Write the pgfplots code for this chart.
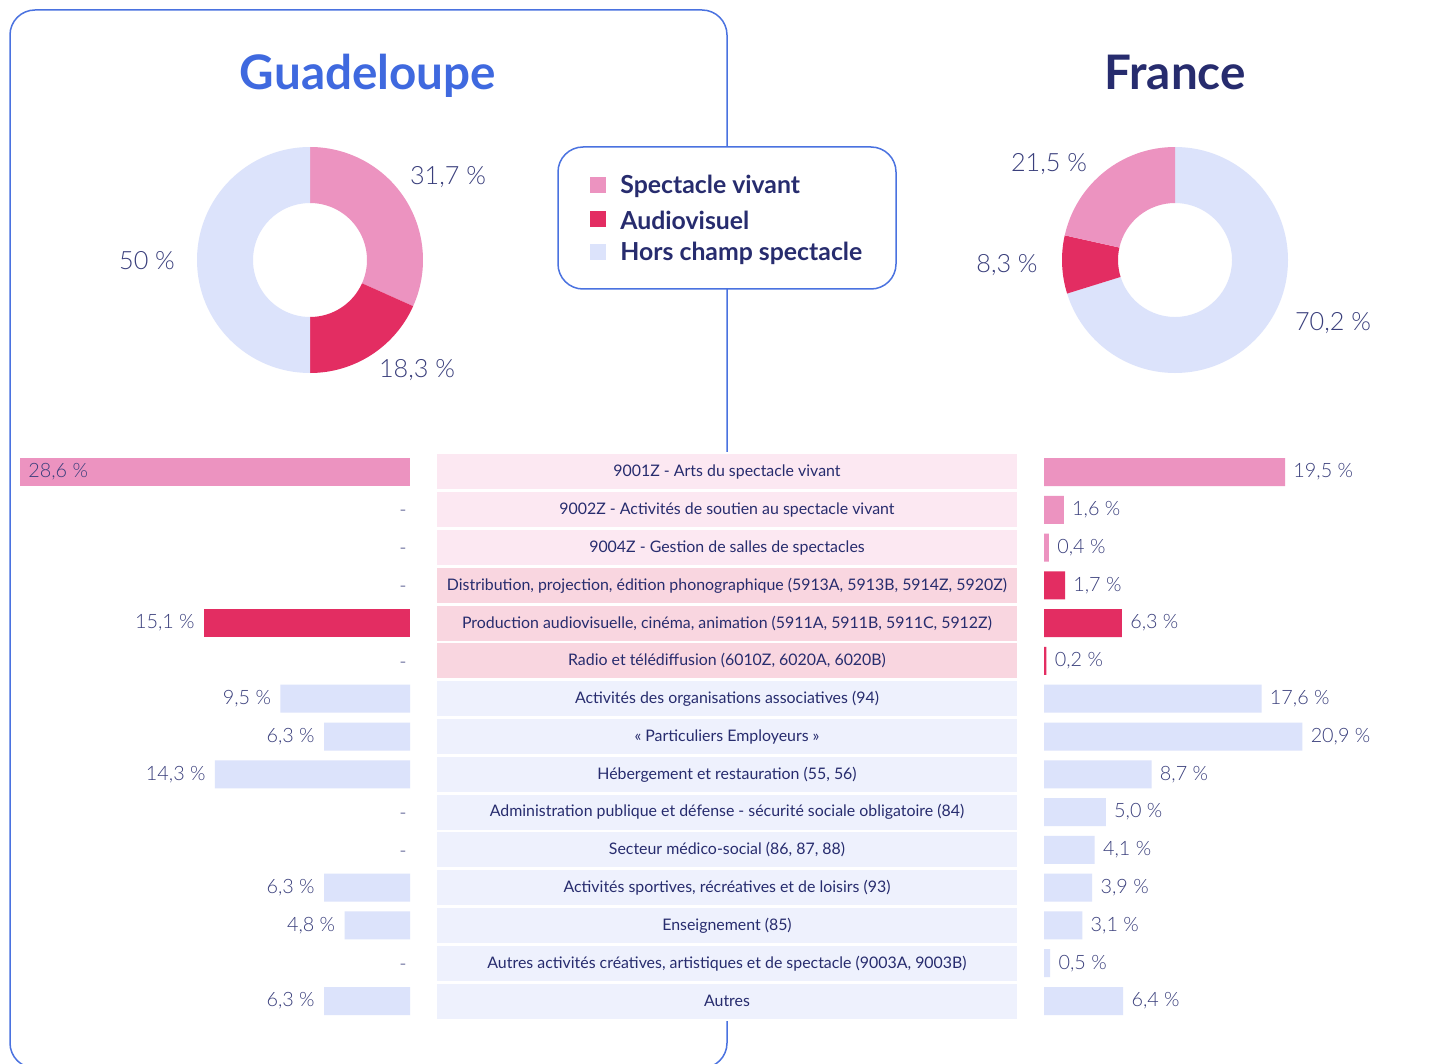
\documentclass[border=0pt]{standalone}
\usepackage{pgfplots}
\pgfplotsset{compat=1.18}
\usepackage{fontspec}
\setmainfont{Lato}
\newfontfamily\lightfont{Lato Light}
\definecolor{sv}{HTML}{EC93C0}
\definecolor{av}{HTML}{E32D62}
\definecolor{hc}{HTML}{DCE3FB}
\definecolor{rsv}{HTML}{FCE8F2}
\definecolor{rav}{HTML}{F9D6E0}
\definecolor{rhc}{HTML}{EEF1FD}
\definecolor{frame}{HTML}{4A72E0}
\definecolor{gtitle}{HTML}{3F69DF}
\definecolor{navy}{HTML}{272C6E}
\definecolor{lab}{HTML}{3A3F7C}
\newcommand\sector[3]{%
  \fill[#1] (axis cs:0,0) ++(#2:56.5pt) arc[start angle=#2, end angle=#3, radius=56.5pt]
   -- ([shift={(#3:28.5pt)}]axis cs:0,0) arc[start angle=#3, end angle=#2, radius=28.5pt] -- cycle;}
\pgfmathsetmacro\ga{90-3.6*31.7}
\pgfmathsetmacro\gb{\ga-3.6*18.3}
\pgfmathsetmacro\gc{\gb-3.6*50}
\pgfmathsetmacro\fa{90-3.6*70.2}
\pgfmathsetmacro\fb{\fa-3.6*8.3}
\pgfmathsetmacro\fc{\fb-3.6*21.5}
\newcommand\pfont{\lightfont\fontsize{9.9}{11}\selectfont}
\newcommand\rfont{\fontsize{7.95}{9.5}\selectfont}
\newcommand\dfont{\lightfont\fontsize{12.6}{14}\selectfont}
\begin{document}
\begin{tikzpicture}
\begin{scope}[x=0.5pt,y=-0.5pt]
\clip (0,0) rectangle (1451,1064);
\fill[white] (0,0) rectangle (1451,1064);
% panel
\draw[frame, line width=0.75pt, rounded corners=12.5pt] (10,10) rectangle (727,1068);
% titles
\node[anchor=base, text=gtitle, font=\fontsize{23.8}{26}\bfseries\selectfont, inner sep=0pt] at (368,90) {Guadeloupe};
\node[anchor=base, text=navy, font=\fontsize{23.8}{26}\bfseries\selectfont, inner sep=0pt] at (1175,90) {France};
% legend
\draw[frame, line width=0.75pt, rounded corners=12.5pt, fill=white] (558,147) rectangle (896,289);
\foreach \c/\t/\yy in {sv/Spectacle vivant/185, av/Audiovisuel/219, hc/Hors champ spectacle/252}{
  \fill[\c] (590,\yy-8) rectangle (606,\yy+8);
  \node[anchor=west, text=navy, font=\fontsize{12.4}{14}\bfseries\selectfont, inner sep=0pt] at (620,\yy+1) {\t};
}
% table background
\fill[white] (430,452) rectangle (1024,1021);
\foreach \i/\c/\t in {1/rsv/9001Z - Arts du spectacle vivant,
 2/rsv/9002Z - Activités de soutien au spectacle vivant,
 3/rsv/9004Z - Gestion de salles de spectacles,
 4/rav/{Distribution, projection, édition phonographique (5913A, 5913B, 5914Z, 5920Z)},
 5/rav/{Production audiovisuelle, cinéma, animation (5911A, 5911B, 5911C, 5912Z)},
 6/rav/{Radio et télédiffusion (6010Z, 6020A, 6020B)},
 7/rhc/Activités des organisations associatives (94),
 8/rhc/« Particuliers Employeurs »,
 9/rhc/{Hébergement et restauration (55, 56)},
 10/rhc/Administration publique et défense - sécurité sociale obligatoire (84),
 11/rhc/{Secteur médico-social (86, 87, 88)},
 12/rhc/{Activités sportives, récréatives et de loisirs (93)},
 13/rhc/Enseignement (85),
 14/rhc/{Autres activités créatives, artistiques et de spectacle (9003A, 9003B)},
 15/rhc/Autres}{
  \pgfmathsetmacro\yc{453.1+37.79*(\i-0.5)}
  \fill[\c] (437,\yc-17.5) rectangle (1017,\yc+17.5);
  \node[text=navy, font=\rfont] at (727,\yc) {\t};
}
\node[text=lab, font=\dfont] at (448,177) {31,7 \%};
\node[text=lab, font=\dfont] at (417,370) {18,3 \%};
\node[text=lab, font=\dfont] at (147,261) {50 \%};
\node[text=lab, font=\dfont] at (1049,164) {21,5 \%};
\node[text=lab, font=\dfont] at (1007,265) {8,3 \%};
\node[text=lab, font=\dfont] at (1333,323) {70,2 \%};
\end{scope}
% Guadeloupe donut
\begin{axis}[at={(155pt,-130pt)}, anchor=center, scale only axis, width=113pt, height=113pt,
  xmin=-1, xmax=1, ymin=-1, ymax=1, hide axis, clip=false]
\sector{sv}{90}{\ga}
\sector{av}{\ga}{\gb}
\sector{hc}{\gb}{\gc}
\end{axis}
% France donut
\begin{axis}[at={(587.5pt,-130pt)}, anchor=center, scale only axis, width=113pt, height=113pt,
  xmin=-1, xmax=1, ymin=-1, ymax=1, hide axis, clip=false]
\sector{hc}{90}{\fa}
\sector{av}{\fa}{\fb}
\sector{sv}{\fb}{\fc}
\end{axis}
% Guadeloupe bars
\begin{axis}[at={(5pt,-226.55pt)}, anchor=north west, scale only axis, width=200pt, height=283.4pt,
  xmin=0, xmax=29.33, x dir=reverse, ymin=0.5, ymax=15.5, y dir=reverse, hide axis,
  xbar, bar width=14pt, bar shift=0pt, clip=false]
\addplot[fill=sv, draw=none] coordinates {(28.6,1)};
\addplot[fill=av, draw=none] coordinates {(15.1,5)};
\addplot[fill=hc, draw=none] coordinates {(9.5,7) (6.3,8) (14.3,9) (6.3,12) (4.8,13) (6.3,15)};
\node[anchor=west, text=lab, font=\pfont, inner sep=0pt, xshift=4pt] at (axis cs:28.6,1) {28,6 \%};
\foreach \v/\r/\t in {15.1/5/{15,1 \%}, 9.5/7/{9,5 \%}, 6.3/8/{6,3 \%}, 14.3/9/{14,3 \%}, 6.3/12/{6,3 \%}, 4.8/13/{4,8 \%}, 6.3/15/{6,3 \%}}{
  \edef\tmp{\noexpand\node[anchor=east, text=lab, font=\noexpand\pfont, inner sep=0pt, xshift=-4.5pt] at (axis cs:\v,\r) {\unexpanded\expandafter{\t}};}\tmp
}
\foreach \r in {2,3,4,6,10,11,14}{
  \edef\tmp{\noexpand\node[anchor=east, text=lab, font=\noexpand\pfont, inner sep=0pt, xshift=-1.5pt, yshift=-2pt] at (axis cs:0,\r) {-};}\tmp
}
\end{axis}
% France bars
\begin{axis}[at={(522pt,-226.55pt)}, anchor=north west, scale only axis, width=200pt, height=283.4pt,
  xmin=0, xmax=32.36, ymin=0.5, ymax=15.5, y dir=reverse, hide axis,
  xbar, bar width=14pt, bar shift=0pt, clip=false]
\addplot[fill=sv, draw=none] coordinates {(19.5,1) (1.6,2) (0.4,3)};
\addplot[fill=av, draw=none] coordinates {(1.7,4) (6.3,5) (0.2,6)};
\addplot[fill=hc, draw=none] coordinates {(17.6,7) (20.9,8) (8.7,9) (5.0,10) (4.1,11) (3.9,12) (3.1,13) (0.5,14) (6.4,15)};
\foreach \v/\r/\t in {19.5/1/{19,5 \%}, 1.6/2/{1,6 \%}, 0.4/3/{0,4 \%}, 1.7/4/{1,7 \%}, 6.3/5/{6,3 \%}, 0.2/6/{0,2 \%},
  17.6/7/{17,6 \%}, 20.9/8/{20,9 \%}, 8.7/9/{8,7 \%}, 5.0/10/{5,0 \%}, 4.1/11/{4,1 \%}, 3.9/12/{3,9 \%}, 3.1/13/{3,1 \%}, 0.5/14/{0,5 \%}, 6.4/15/{6,4 \%}}{
  \edef\tmp{\noexpand\node[anchor=west, text=lab, font=\noexpand\pfont, inner sep=0pt, xshift=4pt] at (axis cs:\v,\r) {\unexpanded\expandafter{\t}};}\tmp
}
\end{axis}
\end{tikzpicture}
\end{document}
